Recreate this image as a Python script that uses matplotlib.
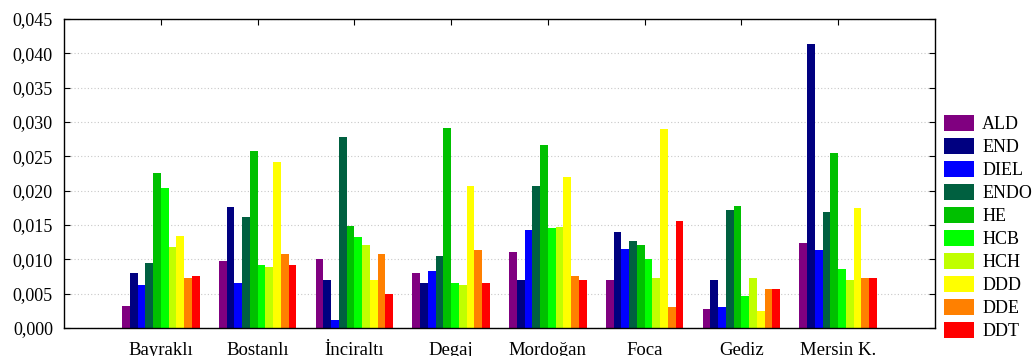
import matplotlib

matplotlib.use("Agg")
import matplotlib.pyplot as plt
import numpy as np
from matplotlib.patches import Patch
from matplotlib.ticker import FuncFormatter, MultipleLocator

plt.rcParams["font.family"] = ["Liberation Serif", "DejaVu Serif"]

sites = ["Bayraklı", "Bostanlı", "İnciraltı", "Degaj", "Mordoğan", "Foca", "Gediz", "Mersin K."]
compounds = ["ALD", "END", "DIEL", "ENDO", "HE", "HCB", "HCH", "DDD", "DDE", "DDT"]
colors = ["#800080", "#000080", "#0000ff", "#006040", "#00c000",
          "#00ff00", "#c0ff00", "#ffff00", "#ff8000", "#ff0000"]

# values per compound, one per site
ald = [0.0032, 0.0098, 0.0101, 0.0080, 0.0111, 0.0069, 0.0027, 0.0124]
end = [0.0080, 0.0176, 0.0069, 0.0066, 0.0069, 0.0139, 0.0069, 0.0414]
diel = [0.0062, 0.0065, 0.0012, 0.0083, 0.0142, 0.0115, 0.0030, 0.0114]
endo = [0.0095, 0.0162, 0.0278, 0.0104, 0.0207, 0.0127, 0.0172, 0.0169]
he = [0.0226, 0.0258, 0.0149, 0.0291, 0.0267, 0.0121, 0.0178, 0.0254]
hcb = [0.0204, 0.0092, 0.0133, 0.0066, 0.0146, 0.0101, 0.0046, 0.0086]
hch = [0.0118, 0.0088, 0.0121, 0.0062, 0.0147, 0.0072, 0.0072, 0.0069]
ddd = [0.0134, 0.0242, 0.0069, 0.0206, 0.0219, 0.0290, 0.0024, 0.0175]
dde = [0.0072, 0.0107, 0.0108, 0.0114, 0.0075, 0.0031, 0.0057, 0.0073]
ddt = [0.0076, 0.0091, 0.0049, 0.0066, 0.0070, 0.0156, 0.0057, 0.0072]
series = [ald, end, diel, endo, he, hcb, hch, ddd, dde, ddt]

fig = plt.figure(figsize=(10.33, 3.56), dpi=100)
ax = fig.add_axes([0.062, 0.079, 0.843, 0.868])

x = np.arange(1, len(sites) + 1)
w = 0.08
for i, (vals, c) in enumerate(zip(series, colors)):
    ax.bar(x + (i - 4.5) * w, vals, width=w, color=c, linewidth=0, zorder=2)

ax.set_xlim(0, 9)
ax.set_ylim(0, 0.045)
ax.yaxis.set_major_locator(MultipleLocator(0.005))
ax.yaxis.set_major_formatter(FuncFormatter(lambda v, p: f"{v:.3f}".replace(".", ",")))
ax.set_xticks(x)
ax.set_xticklabels(sites, fontsize=13.5)
ax.tick_params(axis="x", direction="in", top=True, bottom=False, pad=10, length=4)
ax.tick_params(axis="y", direction="in", right=True, labelsize=13, pad=8, length=4)
ax.yaxis.grid(True, linestyle=(0, (1, 2)), color="#c8c8c8", linewidth=0.8, zorder=0)
for s in ax.spines.values():
    s.set_linewidth(1.0)

handles = [Patch(facecolor=c, edgecolor="none") for c in colors]
fig.legend(handles, compounds, loc="upper left", bbox_to_anchor=(0.914, 0.677),
           frameon=False, fontsize=13, handlelength=1.66, handleheight=1.0,
           handletextpad=0.45, labelspacing=0.26, borderaxespad=0, borderpad=0)

fig.savefig("out.png", dpi=100)
